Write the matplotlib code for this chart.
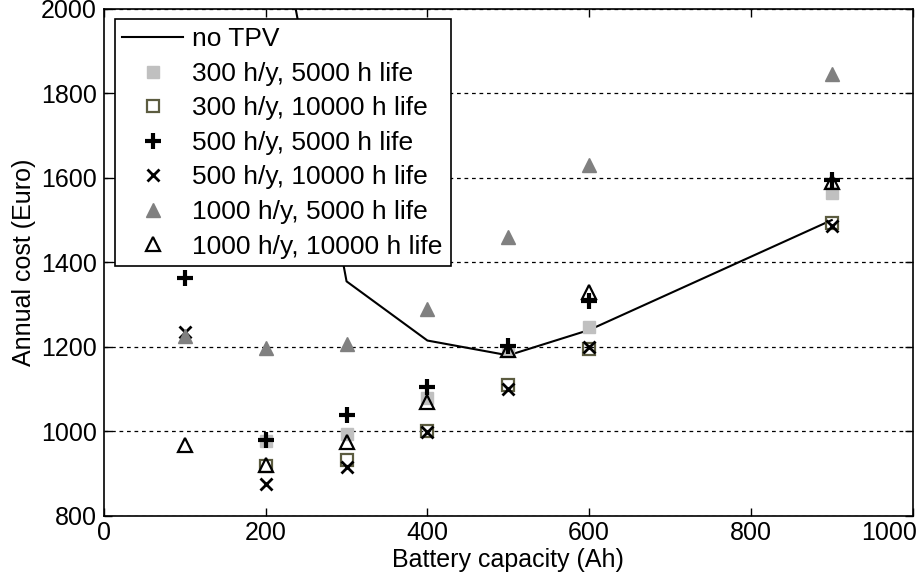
import numpy as np
import matplotlib
matplotlib.use("Agg")
from matplotlib import pyplot as plt
from matplotlib.transforms import ScaledTranslation

plt.rcParams['font.family'] = ['Liberation Sans', 'DejaVu Sans']

# battery capacity (Ah)
capacity = [100, 200, 300, 400, 500, 600, 900]
nan = np.nan

# annual cost (Euro) without TPV
no_tpv_cap = [200, 300, 400, 500, 600, 900]
no_tpv_cost = [2380, 1355, 1215, 1180, 1240, 1500]

cost_300_5000 = [nan, 978, 995, 1080, 1190, 1248, 1565]
cost_300_10000 = [nan, 918, 932, 1000, 1110, 1195, 1492]
cost_500_5000 = [1362, 980, 1040, 1106, 1202, 1308, 1595]
cost_500_10000 = [1235, 876, 915, 998, 1100, 1200, 1487]
cost_1000_5000 = [1225, 1197, 1207, 1290, 1460, 1630, 1845]
cost_1000_10000 = [968, 920, 975, 1070, 1192, 1330, 1590]

fig = plt.figure(figsize=(9.2, 5.83), dpi=100)
ax = fig.add_axes([0.113, 0.115, 0.879, 0.870])

ax.plot(no_tpv_cap, no_tpv_cost, color='k', lw=1.5, label='no TPV')
ax.plot(capacity, cost_300_5000, ls='none', marker='s', ms=9,
        mfc='#c0c0c0', mec='#c0c0c0', label='300 h/y, 5000 h life')
ax.plot(capacity, cost_300_10000, ls='none', marker='s', ms=9, mew=1.6,
        mfc='none', mec='#5c5c40', label='300 h/y, 10000 h life')
ax.plot(capacity, cost_500_5000, ls='none', marker='+', ms=11, mew=3,
        color='k', label='500 h/y, 5000 h life')
ax.plot(capacity, cost_500_10000, ls='none', marker='x', ms=9, mew=2,
        color='k', label='500 h/y, 10000 h life')
ax.plot(capacity, cost_1000_5000, ls='none', marker='^', ms=10,
        mfc='#808080', mec='#808080', label='1000 h/y, 5000 h life')
ax.plot(capacity, cost_1000_10000, ls='none', marker='^', ms=10, mew=1.6,
        mfc='none', mec='k', label='1000 h/y, 10000 h life')

ax.set_xlim(0, 1000)
ax.set_ylim(800, 2000)
ax.set_xticks(range(0, 1001, 200))
ax.set_yticks(range(800, 2001, 200))
ax.yaxis.grid(True, color='k', ls=(0, (3, 3)), lw=0.9)
ax.tick_params(direction='in', length=6, width=1, top=True, right=True,
               labelsize=18)
ax.tick_params(axis='y', pad=5)
for sp in ax.spines.values():
    sp.set_linewidth(1.2)

# keep the last x tick label inside the figure
last = ax.get_xticklabels()[-1]
last.set_transform(last.get_transform()
                   + ScaledTranslation(-24 / 100, 0, fig.dpi_scale_trans))

ax.set_xlabel('Battery capacity (Ah)', fontsize=18, labelpad=2)
ax.set_ylabel('Annual cost (Euro)', fontsize=18, labelpad=4)

leg = ax.legend(loc='upper left', fontsize=19, frameon=True, fancybox=False,
                edgecolor='k', framealpha=1, handlelength=2.3,
                handletextpad=0.35, labelspacing=0.40, borderaxespad=0.4,
                borderpad=0.3, numpoints=1)
leg.get_frame().set_linewidth(1.2)

fig.savefig('out.png', dpi=100)
